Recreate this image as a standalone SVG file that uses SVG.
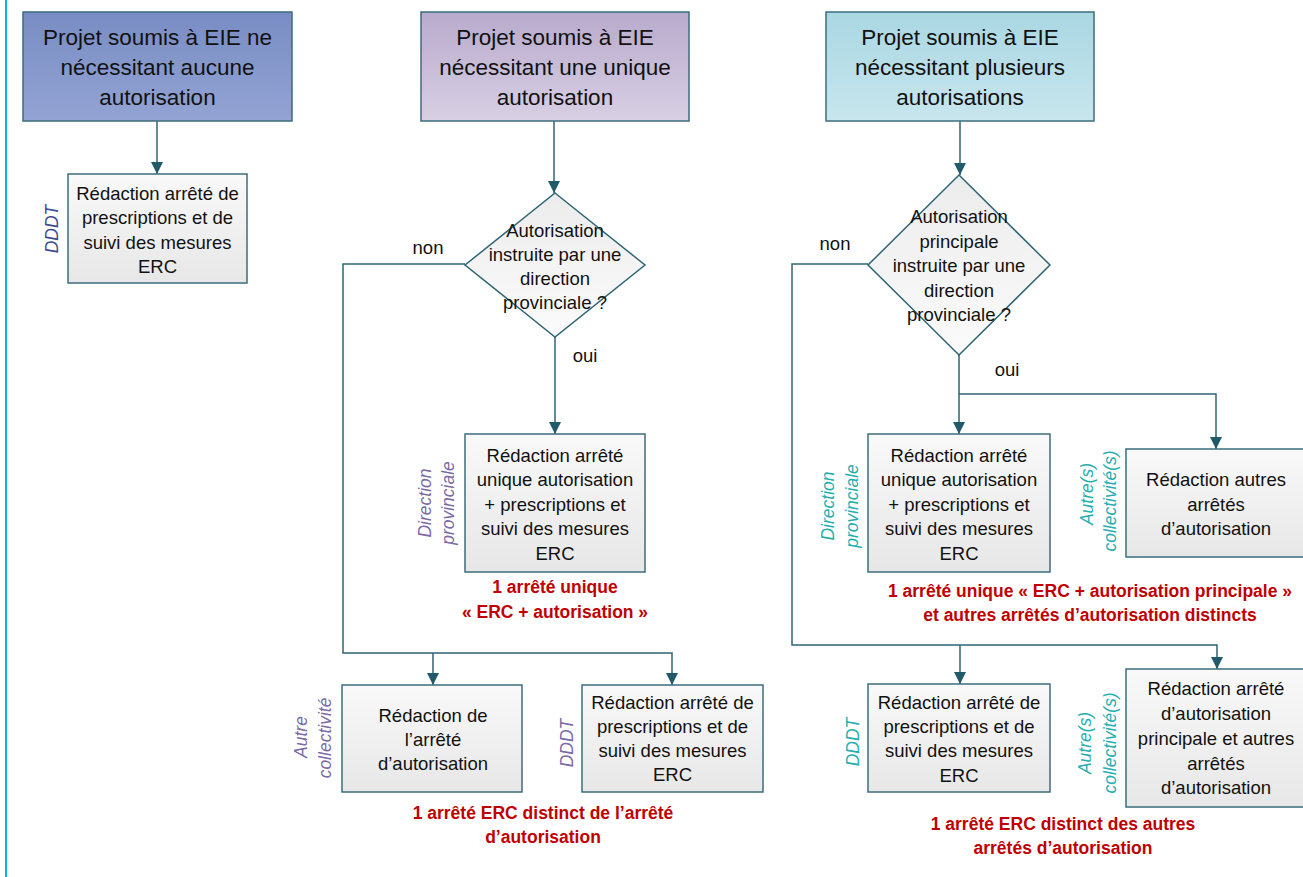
<svg xmlns="http://www.w3.org/2000/svg" width="1303" height="877" viewBox="0 0 1303 877">
<defs>
<linearGradient id="g1" x1="0" y1="0" x2="0" y2="1"><stop offset="0" stop-color="#788dc4"/><stop offset="1" stop-color="#93a3d3"/></linearGradient>
<linearGradient id="g2" x1="0" y1="0" x2="0" y2="1"><stop offset="0" stop-color="#b8aacc"/><stop offset="1" stop-color="#d8cfe4"/></linearGradient>
<linearGradient id="g3" x1="0" y1="0" x2="0" y2="1"><stop offset="0" stop-color="#a9d7e2"/><stop offset="1" stop-color="#c8e6ee"/></linearGradient>
<linearGradient id="gb" x1="0" y1="0" x2="0" y2="1"><stop offset="0" stop-color="#f9f9f9"/><stop offset="1" stop-color="#e7e7e7"/></linearGradient>
<linearGradient id="gd" x1="0" y1="0" x2="0" y2="1"><stop offset="0" stop-color="#ececec"/><stop offset="1" stop-color="#fbfbfb"/></linearGradient>
<marker id="arr" viewBox="0 0 12 12" refX="12" refY="6" markerWidth="12" markerHeight="12" markerUnits="userSpaceOnUse" orient="auto"><path d="M0,0 L12,6 L0,12 z" fill="#215a68"/></marker>
</defs>
<style>
.hdr{stroke:#3d6e7c;stroke-width:1.5}
.box{fill:url(#gb);stroke:#3d6e7c;stroke-width:1.5}
.dia{fill:url(#gd);stroke:#2f6474;stroke-width:1.5}
.con{fill:none;stroke:#2f6474;stroke-width:1.5}
text{font-family:"Liberation Sans",Arial,sans-serif;fill:#111;text-anchor:middle;dominant-baseline:central}
.h{font-size:22.5px}
.t{font-size:18.5px}
.lab{font-size:17.5px;font-style:italic}
.l1{fill:#3d4b8f}
.l2{fill:#7a6aa8}
.l3{fill:#25aeb0}
.red{font-size:17.5px;font-weight:bold;fill:#c00000}
</style>
<rect x="0" y="0" width="1303" height="877" fill="#ffffff"/>
<line x1="6" y1="0" x2="6" y2="877" stroke="#00b0f0" stroke-width="2"/>

<g id="connectors">
<path class="con" d="M157,121 V174" marker-end="url(#arr)"/>
<path class="con" d="M554,121 V193" marker-end="url(#arr)"/>
<path class="con" d="M960,121 V175" marker-end="url(#arr)"/>
<path class="con" d="M555,337 V434" marker-end="url(#arr)"/>
<path class="con" d="M465,264 H343 V653 H672 V685" marker-end="url(#arr)"/>
<path class="con" d="M433,653 V685" marker-end="url(#arr)"/>
<path class="con" d="M959,355 V434" marker-end="url(#arr)"/>
<path class="con" d="M959,394 H1216 V449" marker-end="url(#arr)"/>
<path class="con" d="M868,264 H792 V645 H1217 V669" marker-end="url(#arr)"/>
<path class="con" d="M960,645 V684" marker-end="url(#arr)"/>
<text class="t" x="428" y="247">non</text>
<text class="t" x="585" y="355">oui</text>
<text class="t" x="835" y="243">non</text>
<text class="t" x="1007" y="369">oui</text>
</g>

<g id="h1">
<rect class="hdr" x="23" y="12" width="269" height="109" fill="url(#g1)"/>
<text class="h" x="157.5" y="37">Projet soumis à EIE ne</text>
<text class="h" x="157.5" y="67">nécessitant aucune</text>
<text class="h" x="157.5" y="97">autorisation</text>
</g>
<g id="h2">
<rect class="hdr" x="421" y="12" width="268" height="109" fill="url(#g2)"/>
<text class="h" x="555" y="37">Projet soumis à EIE</text>
<text class="h" x="555" y="67">nécessitant une unique</text>
<text class="h" x="555" y="97">autorisation</text>
</g>
<g id="h3">
<rect class="hdr" x="826" y="12" width="268" height="109" fill="url(#g3)"/>
<text class="h" x="960" y="37">Projet soumis à EIE</text>
<text class="h" x="960" y="67">nécessitant plusieurs</text>
<text class="h" x="960" y="97">autorisations</text>
</g>

<g id="b1">
<rect class="box" x="68" y="174" width="179" height="109"/>
<text class="t" x="157.5" y="193">Rédaction arrêté de</text>
<text class="t" x="157.5" y="217.5">prescriptions et de</text>
<text class="t" x="157.5" y="242">suivi des mesures</text>
<text class="t" x="157.5" y="266.5">ERC</text>
<text class="lab l1" transform="translate(52,229) rotate(-90)">DDDT</text>
</g>

<g id="d1">
<polygon class="dia" points="555,193 645,265 555,337 465,265"/>
<text class="t" x="555" y="230">Autorisation</text>
<text class="t" x="555" y="254">instruite par une</text>
<text class="t" x="555" y="278">direction</text>
<text class="t" x="555" y="302">provinciale ?</text>
</g>

<g id="b2">
<rect class="box" x="465" y="434" width="180" height="138"/>
<text class="t" x="555" y="455">Rédaction arrêté</text>
<text class="t" x="555" y="479.5">unique autorisation</text>
<text class="t" x="555" y="504">+ prescriptions et</text>
<text class="t" x="555" y="528.5">suivi des mesures</text>
<text class="t" x="555" y="553">ERC</text>
<text class="lab l2" transform="translate(425,503) rotate(-90)">Direction</text>
<text class="lab l2" transform="translate(448,503) rotate(-90)">provinciale</text>
<text class="red" x="555" y="587">1 arrêté unique</text>
<text class="red" x="555" y="612">« ERC + autorisation »</text>
</g>

<g id="b3">
<rect class="box" x="342" y="685" width="180" height="107"/>
<text class="t" x="433" y="715">Rédaction de</text>
<text class="t" x="433" y="739">l’arrêté</text>
<text class="t" x="433" y="763">d’autorisation</text>
<text class="lab l2" transform="translate(301,737) rotate(-90)">Autre</text>
<text class="lab l2" transform="translate(325,738) rotate(-90)">collectivité</text>
</g>

<g id="b4">
<rect class="box" x="582" y="685" width="181" height="107"/>
<text class="t" x="672.5" y="702">Rédaction arrêté de</text>
<text class="t" x="672.5" y="726">prescriptions et de</text>
<text class="t" x="672.5" y="750">suivi des mesures</text>
<text class="t" x="672.5" y="774">ERC</text>
<text class="lab l2" transform="translate(567,743) rotate(-90)">DDDT</text>
<text class="red" x="543" y="813">1 arrêté ERC distinct de l’arrêté</text>
<text class="red" x="543" y="837">d’autorisation</text>
</g>

<g id="d2">
<polygon class="dia" points="959,175 1050,265 959,355 868,265"/>
<text class="t" x="959" y="216">Autorisation</text>
<text class="t" x="959" y="241">principale</text>
<text class="t" x="959" y="265.5">instruite par une</text>
<text class="t" x="959" y="290">direction</text>
<text class="t" x="959" y="314">provinciale ?</text>
</g>

<g id="b5">
<rect class="box" x="868" y="434" width="182" height="138"/>
<text class="t" x="959" y="455">Rédaction arrêté</text>
<text class="t" x="959" y="479.5">unique autorisation</text>
<text class="t" x="959" y="504">+ prescriptions et</text>
<text class="t" x="959" y="528.5">suivi des mesures</text>
<text class="t" x="959" y="553">ERC</text>
<text class="lab l3" transform="translate(828,506) rotate(-90)">Direction</text>
<text class="lab l3" transform="translate(852,506) rotate(-90)">provinciale</text>
</g>

<g id="b6">
<rect class="box" x="1126" y="449" width="190" height="108"/>
<text class="t" x="1216" y="479">Rédaction autres</text>
<text class="t" x="1216" y="504">arrêtés</text>
<text class="t" x="1216" y="528">d’autorisation</text>
<text class="lab l3" transform="translate(1087,494) rotate(-90)">Autre(s)</text>
<text class="lab l3" transform="translate(1110,501) rotate(-90)">collectivité(s)</text>
<text class="red" x="1090" y="591">1 arrêté unique « ERC + autorisation principale »</text>
<text class="red" x="1090" y="615">et autres arrêtés d’autorisation distincts</text>
</g>

<g id="b7">
<rect class="box" x="868" y="684" width="182" height="108"/>
<text class="t" x="959" y="702">Rédaction arrêté de</text>
<text class="t" x="959" y="726">prescriptions et de</text>
<text class="t" x="959" y="750">suivi des mesures</text>
<text class="t" x="959" y="775">ERC</text>
<text class="lab l3" transform="translate(853,742) rotate(-90)">DDDT</text>
</g>

<g id="b8">
<rect class="box" x="1126" y="669" width="190" height="138"/>
<text class="t" x="1216" y="688">Rédaction arrêté</text>
<text class="t" x="1216" y="713">d’autorisation</text>
<text class="t" x="1216" y="738">principale et autres</text>
<text class="t" x="1216" y="763">arrêtés</text>
<text class="t" x="1216" y="787">d’autorisation</text>
<text class="lab l3" transform="translate(1085,743) rotate(-90)">Autre(s)</text>
<text class="lab l3" transform="translate(1110,743) rotate(-90)">collectivité(s)</text>
<text class="red" x="1063" y="824">1 arrêté ERC distinct des autres</text>
<text class="red" x="1063" y="848">arrêtés d’autorisation</text>
</g>
</svg>
